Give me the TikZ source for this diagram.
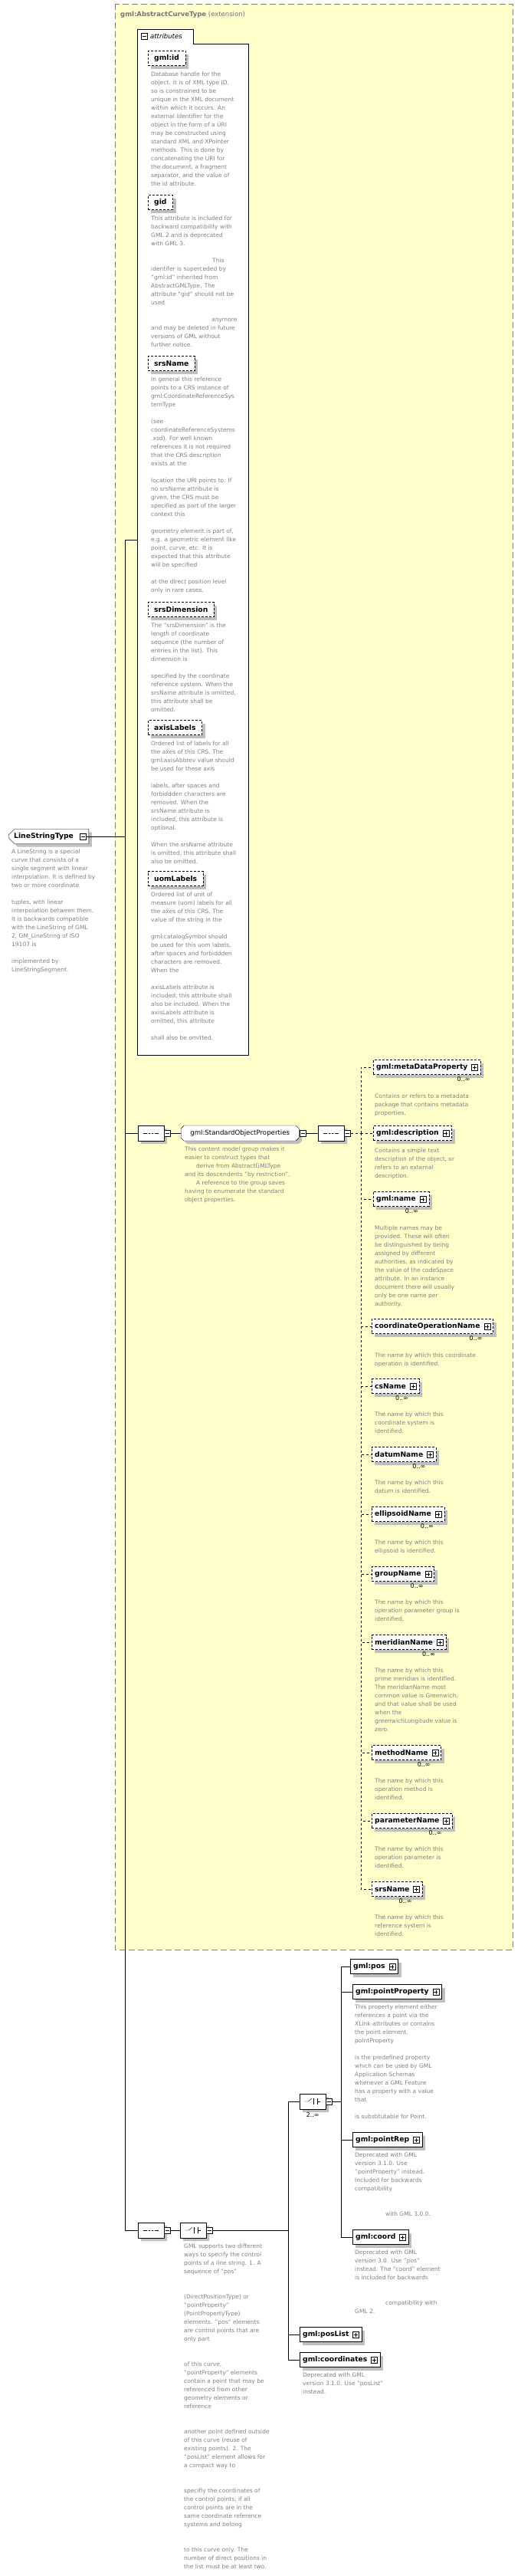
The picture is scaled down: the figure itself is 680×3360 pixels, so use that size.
\documentclass[tikz,border=0pt]{standalone}
\usepackage{fontspec}
\setmainfont{DejaVu Sans}
\usetikzlibrary{shapes.misc,shadows}
\definecolor{ext}{RGB}{255,255,204}
\definecolor{note}{RGB}{128,128,128}
\tikzset{
  shd/.style={drop shadow={shadow xshift=4pt,shadow yshift=-4pt,fill=black!25,opacity=1}},
  elem/.style={draw,fill=white,shd,anchor=west,minimum height=19pt,inner xsep=4pt,inner ysep=0pt,font=\bfseries\fontsize{9.2}{11}\selectfont},
  optelem/.style={elem,dash pattern=on 3pt off 2pt},
  attr/.style={elem,dash pattern=on 3pt off 2pt,inner xsep=8pt},
  desc/.style={anchor=north west,inner sep=0pt,align=left,text=note,font=\fontsize{7.5}{11}\selectfont},
  mult/.style={anchor=north east,inner sep=0pt,font=\fontsize{8}{9}\selectfont},
  plusbox/.style={draw,solid,fill=white,minimum size=8pt,inner sep=0pt,
    path picture={\draw ([xshift=1.5pt]path picture bounding box.west) -- ([xshift=-1.5pt]path picture bounding box.east);
      \draw ([yshift=1.5pt]path picture bounding box.south) -- ([yshift=-1.5pt]path picture bounding box.north);}},
  minusbox/.style={draw,solid,fill=white,minimum size=8pt,inner sep=0pt,
    path picture={\draw ([xshift=1.5pt]path picture bounding box.west) -- ([xshift=-1.5pt]path picture bounding box.east);}},
  comp/.style={draw,fill=white,shd,chamfered rectangle,chamfered rectangle xsep=5pt,chamfered rectangle ysep=0pt,minimum width=34pt,minimum height=20pt,inner sep=0pt},
  seqnode/.style={comp,path picture={\coordinate (c) at (path picture bounding box.center);
    \draw ([xshift=-10pt]c) -- ([xshift=10pt]c);
    \foreach \d in {-4,0,4} \fill ([xshift=\d pt]c) circle (1.2pt);}},
  choicenode/.style={comp,path picture={\coordinate (c) at (path picture bounding box.center);
    \draw ([xshift=-11pt]c) -- ([xshift=-6pt]c) -- ([xshift=-1pt,yshift=4pt]c);
    \draw ([xshift=1pt,yshift=4pt]c) -- ([xshift=1pt,yshift=-4pt]c);
    \foreach \d in {-3.5,0,3.5} \fill ([xshift=2pt,yshift=\d pt]c) rectangle ++(2.5pt,1.6pt);
    \draw ([xshift=6pt,yshift=4pt]c) -- ([xshift=6pt,yshift=-4pt]c);
    \draw ([xshift=6pt]c) -- ([xshift=10pt]c);}},
}
\newcommand\xel[4][optelem]{\node[#1] (#2) at (#3) {#4\kern13pt};
  \node[plusbox] (#2-p) at ([xshift=-8pt]#2.east) {};}
\begin{document}
\begin{tikzpicture}[x=1pt,y=-1pt]
\useasboundingbox (0,0) rectangle (680,3360);

% extension box
\draw[draw=black!50,dash pattern=on 8pt off 4pt,fill=ext] (150,5) rectangle (669,2543);
\node[anchor=west,inner sep=0pt,text=black!55,font=\fontsize{8.5}{10}\selectfont] (extt) at (157,19) {\textbf{gml:AbstractCurveType} (extension)};

% attributes
\draw[fill=white] (179,38) -- (252,38) -- (252,57) -- (324,57) -- (324,1376) -- (179,1376) -- cycle;
\node[minusbox] (attrm) at (188,47) {};
\node[anchor=west,inner sep=0pt,font=\itshape\fontsize{8.5}{10}\selectfont] (attrt) at (196,47) {attributes};
\coordinate (attrIn) at (179,704);

\node[attr] (aid) at (193,76) {gml:id};
\node[desc] (daid) at ([xshift=4pt,yshift=-8pt]aid.south west) {Database handle for the\\object.  It is of XML type ID,\\so is constrained to be\\unique in the XML document\\within which it occurs.  An\\external identifier for the\\object in the form of a URI\\may be constructed using\\standard XML and XPointer\\methods.  This is done by\\concatenating the URI for\\the document, a fragment\\separator, and the value of\\the id attribute.};
\node[attr] (agid) at (193,264) {gid};
\node[desc] (dagid) at ([xshift=4pt,yshift=-8pt]agid.south west) {This attribute is included for\\backward compatibility with\\GML 2 and is deprecated\\with GML 3.\\ \\\hspace*{80pt}This\\identifer is superceded by\\"gml:id" inherited from\\AbstractGMLType. The\\attribute "gid" should not be\\used\\ \\\hspace*{79pt}anymore\\and may be deleted in future\\versions of GML without\\further notice.};
\node[attr] (asrs) at (193,474) {srsName};
\node[desc] (dasrs) at ([xshift=4pt,yshift=-8pt]asrs.south west) {In general this reference\\points to a CRS instance of\\gml:CoordinateReferenceSys\\temType\\ \\(see\\coordinateReferenceSystems\\.xsd). For well known\\references it is not required\\that the CRS description\\exists at the\\ \\location the URI points to. If\\no srsName attribute is\\given, the CRS must be\\specified as part of the larger\\context this\\ \\geometry element is part of,\\e.g. a geometric element like\\point, curve, etc. It is\\expected that this attribute\\will be specified\\ \\at the direct position level\\only in rare cases.};
\node[attr] (adim) at (193,795) {srsDimension};
\node[desc] (dadim) at ([xshift=4pt,yshift=-8pt]adim.south west) {The "srsDimension" is the\\length of coordinate\\sequence (the number of\\entries in the list). This\\dimension is\\ \\specified by the coordinate\\reference system. When the\\srsName attribute is omitted,\\this attribute shall be\\omitted.};
\node[attr] (aaxis) at (193,949) {axisLabels};
\node[desc] (daaxis) at ([xshift=4pt,yshift=-8pt]aaxis.south west) {Ordered list of labels for all\\the axes of this CRS. The\\gml:axisAbbrev value should\\be used for these axis\\ \\labels, after spaces and\\forbiddden characters are\\removed. When the\\srsName attribute is\\included, this attribute is\\optional.\\ \\When the srsName attribute\\is omitted, this attribute shall\\also be omitted.};
\node[attr] (auom) at (193,1146) {uomLabels};
\node[desc] (dauom) at ([xshift=4pt,yshift=-8pt]auom.south west) {Ordered list of unit of\\measure (uom) labels for all\\the axes of this CRS. The\\value of the string in the\\ \\gml:catalogSymbol should\\be used for this uom labels,\\after spaces and forbiddden\\characters are removed.\\When the\\ \\axisLabels attribute is\\included, this attribute shall\\also be included. When the\\axisLabels attribute is\\omitted, this attribute\\ \\shall also be omitted.};

% root type
\node[elem,chamfered rectangle,chamfered rectangle corners={north west,south west},chamfered rectangle xsep=4pt,minimum width=104pt,inner xsep=3pt] (lst) at (11,1091) {LineStringType\kern13pt};
\node[minusbox] (lst-m) at ([xshift=-8pt]lst.east) {};
\node[desc] (dlst) at (15,1108) {A LineString is a special\\curve that consists of a\\single segment with linear\\interpolation. It is defined by\\two or more coordinate\\ \\tuples, with linear\\interpolation between them.\\It is backwards compatible\\with the LineString of GML\\2, GM\_LineString of ISO\\19107 is\\ \\implemented by\\LineStringSegment.};
\coordinate (mainj) at (163,1091);

% standard object properties
\node[seqnode,anchor=west] (seq1) at (180,1478) {};
\node[minusbox] (seq1-m) at ([xshift=4pt]seq1.east) {};
\node[comp,anchor=west,minimum width=154pt,chamfered rectangle xsep=4pt,font=\fontsize{8.6}{10}\selectfont] (sop) at (236,1478) {gml:StandardObjectProperties};
\node[minusbox] (sop-m) at ([xshift=5pt]sop.east) {};
\node[desc] (dsop) at (241,1496) {This content model group makes it\\easier to construct types that\\\hspace*{15pt}derive from AbstractGMLType\\and its descendents "by restriction".\\\hspace*{15pt}A reference to the group saves\\having to enumerate the standard\\object properties.};
\node[seqnode,anchor=west] (seq2) at (415,1478) {};
\node[minusbox] (seq2-m) at ([xshift=4pt]seq2.east) {};
\coordinate (sj) at (471,1478);

\xel{meta}{487,1392}{gml:metaDataProperty}
\node[mult] (mmeta) at ([xshift=-14pt,yshift=-3pt]meta.south east) {0..∞};
\node[desc] (dmeta) at ([xshift=2pt,yshift=-25pt]meta.south west) {Contains or refers to a metadata\\package that contains metadata\\properties.};
\xel{descr}{487,1478}{gml:description}
\node[desc] (ddescr) at ([xshift=2pt,yshift=-10pt]descr.south west) {Contains a simple text\\description of the object, or\\refers to an external\\description.};
\xel{gname}{487,1564}{gml:name}
\node[mult] (mgname) at ([xshift=-14pt,yshift=-3pt]gname.south east) {0..∞};
\node[desc] (dgname) at ([xshift=2pt,yshift=-25pt]gname.south west) {Multiple names may be\\provided.  These will often\\be distinguished by being\\assigned by different\\authorities, as indicated by\\the value of the codeSpace\\attribute.  In an instance\\document there will usually\\only be one name per\\authority.};
\xel{coname}{485,1730}{coordinateOperationName}
\node[mult] (mconame) at ([xshift=-14pt,yshift=-3pt]coname.south east) {0..∞};
\node[desc] (dconame) at ([xshift=4pt,yshift=-25pt]coname.south west) {The name by which this coordinate\\operation is identified.};
\xel{csname}{485,1808}{csName}
\node[mult] (mcsname) at ([xshift=-14pt,yshift=-3pt]csname.south east) {0..∞};
\node[desc] (dcsname) at ([xshift=4pt,yshift=-24pt]csname.south west) {The name by which this\\coordinate system is\\identified.};
\xel{datum}{485,1897}{datumName}
\node[mult] (mdatum) at ([xshift=-14pt,yshift=-3pt]datum.south east) {0..∞};
\node[desc] (ddatum) at ([xshift=4pt,yshift=-24pt]datum.south west) {The name by which this\\datum is identified.};
\xel{ellip}{485,1975}{ellipsoidName}
\node[mult] (mellip) at ([xshift=-14pt,yshift=-3pt]ellip.south east) {0..∞};
\node[desc] (dellip) at ([xshift=4pt,yshift=-24pt]ellip.south west) {The name by which this\\ellipsoid is identified.};
\xel{group}{485,2053}{groupName}
\node[mult] (mgroup) at ([xshift=-14pt,yshift=-3pt]group.south east) {0..∞};
\node[desc] (dgroup) at ([xshift=4pt,yshift=-24pt]group.south west) {The name by which this\\operation parameter group is\\identified.};
\xel{merid}{485,2142}{meridianName}
\node[mult] (mmerid) at ([xshift=-14pt,yshift=-3pt]merid.south east) {0..∞};
\node[desc] (dmerid) at ([xshift=4pt,yshift=-24pt]merid.south west) {The name by which this\\prime meridian is identified.\\The meridianName most\\common value is Greenwich,\\and that value shall be used\\when the\\greenwichLongitude value is\\zero.};
\xel{method}{485,2286}{methodName}
\node[mult] (mmethod) at ([xshift=-14pt,yshift=-3pt]method.south east) {0..∞};
\node[desc] (dmethod) at ([xshift=4pt,yshift=-24pt]method.south west) {The name by which this\\operation method is\\identified.};
\xel{param}{485,2375}{parameterName}
\node[mult] (mparam) at ([xshift=-14pt,yshift=-3pt]param.south east) {0..∞};
\node[desc] (dparam) at ([xshift=4pt,yshift=-24pt]param.south west) {The name by which this\\operation parameter is\\identified.};
\xel{srsn}{485,2464}{srsName}
\node[mult] (msrsn) at ([xshift=-14pt,yshift=-3pt]srsn.south east) {0..∞};
\node[desc] (dsrsn) at ([xshift=4pt,yshift=-24pt]srsn.south west) {The name by which this\\reference system is\\identified.};

% control points
\node[seqnode,anchor=west] (seq3) at (180,2909) {};
\node[minusbox] (seq3-m) at ([xshift=4pt]seq3.east) {};
\node[choicenode,anchor=west] (ch1) at (235,2909) {};
\node[minusbox] (ch1-m) at ([xshift=4pt]ch1.east) {};
\node[desc] (dch1) at (240,2927) {GML supports two different\\ways to specify the control\\points of a line string. 1. A\\sequence of "pos"\\ \\ \\(DirectPositionType) or\\"pointProperty"\\(PointPropertyType)\\elements. "pos" elements\\are control points that are\\only part\\ \\ \\of this curve,\\"pointProperty" elements\\contain a point that may be\\referenced from other\\geometry elements or\\reference\\ \\ \\another point defined outside\\of this curve (reuse of\\existing points). 2. The\\"posList" element allows for\\a compact way to\\ \\ \\specifiy the coordinates of\\the control points, if all\\control points are in the\\same coordinate reference\\systems and belong\\ \\ \\to this curve only. The\\number of direct positions in\\the list must be at least two.};
\coordinate (cj1) at (376,2909);
\node[choicenode,anchor=west] (ch2) at (391,2741) {};
\node[minusbox] (ch2-m) at ([xshift=4pt]ch2.east) {};
\node[mult,anchor=north] (mch2) at ([yshift=-4pt]ch2.south) {2..∞};
\coordinate (cj2) at (445,2741);

\xel[elem]{pos}{457,2565}{gml:pos}
\xel[elem]{pprop}{460,2598}{gml:pointProperty}
\node[desc] (dpprop) at ([xshift=3pt,yshift=-7pt]pprop.south west) {This property element either\\references a point via the\\XLink-attributes or contains\\the point element.\\pointProperty\\ \\is the predefined property\\which can be used by GML\\Application Schemas\\whenever a GML Feature\\has a property with a value\\that\\ \\is substitutable for Point.};
\xel[elem]{prep}{460,2791}{gml:pointRep}
\node[desc] (dprep) at ([xshift=3pt,yshift=-7pt]prep.south west) {Deprecated with GML\\version 3.1.0. Use\\"pointProperty" instead.\\Included for backwards\\compatibility\\ \\ \\\hspace*{40pt}with GML 3.0.0.};
\xel[elem]{coord}{460,2918}{gml:coord}
\node[desc] (dcoord) at ([xshift=3pt,yshift=-7pt]coord.south west) {Deprecated with GML\\version 3.0. Use "pos"\\instead. The "coord" element\\is included for backwards\\ \\ \\\hspace*{40pt}compatibility with\\GML 2.};
\xel[elem]{plist}{391,3045}{gml:posList}
\xel[elem]{coords}{391,3078}{gml:coordinates}
\node[desc] (dcoords) at ([xshift=4pt,yshift=-7pt]coords.south west) {Deprecated with GML\\version 3.1.0. Use "posList"\\instead.};

% connectors
\draw (lst-m.east) -- (mainj);
\draw (mainj) |- (attrIn);
\draw (mainj) |- (seq1.west);
\draw (mainj) |- (seq3.west);
\draw (seq1-m.east) -- (sop.west);
\draw (sop-m.east) -- (seq2.west);
\draw[dashed] (seq2-m.east) -- (sj);
\foreach \n in {meta,descr,gname,coname,csname,datum,ellip,group,merid,method,param,srsn}
  \draw[dashed] (sj) |- (\n.west);
\draw (seq3-m.east) -- (ch1.west);
\draw (ch1-m.east) -- (cj1);
\foreach \n in {ch2,plist,coords}
  \draw (cj1) |- (\n.west);
\draw (ch2-m.east) -- (cj2);
\foreach \n in {pos,pprop,prep,coord}
  \draw (cj2) |- (\n.west);
\end{tikzpicture}
\end{document}
